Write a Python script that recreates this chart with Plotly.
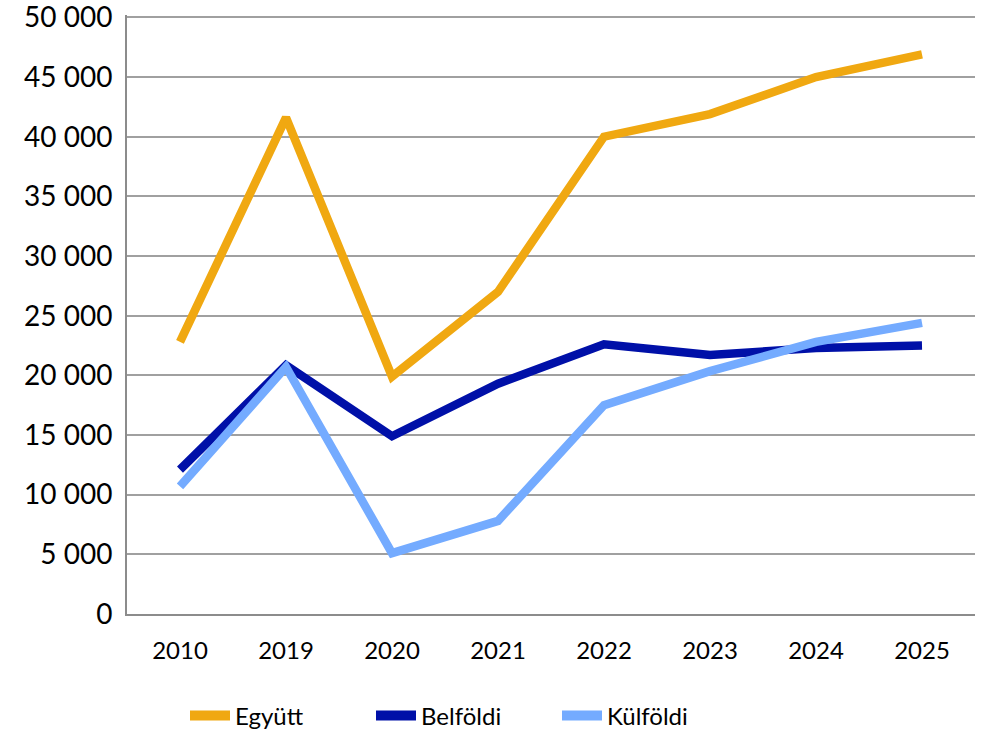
import plotly.graph_objects as go

years = ["2010", "2019", "2020", "2021", "2022", "2023", "2024", "2025"]
egyutt = [22800, 41600, 19900, 27000, 40000, 41900, 45000, 46900]
belfoldi = [12100, 20850, 14900, 19300, 22600, 21700, 22300, 22500]
kulfoldi = [10700, 20700, 5100, 7800, 17500, 20350, 22800, 24400]
series_names = ["Együtt", "Belföldi", "Külföldi"]
colors = ["#F0A811", "#0010A8", "#74ABFF"]

fig = go.Figure()
for name, vals, col in zip(series_names, [egyutt, belfoldi, kulfoldi], colors):
    fig.add_trace(go.Scatter(x=years, y=vals, name=name, mode="lines",
                             line=dict(color=col, width=8.5), showlegend=False))
# legend entries with thicker sample lines
for name, col in zip(series_names, colors):
    fig.add_trace(go.Scatter(x=[None], y=[None], name=name, mode="lines",
                             line=dict(color=col, width=14), showlegend=True))

font = "Lato, 'Open Sans', sans-serif"
fig.update_layout(
    width=983, height=738,
    margin=dict(l=127, r=8, t=15, b=124, autoexpand=False),
    paper_bgcolor="white", plot_bgcolor="white",
    separators=", ",
    font=dict(family=font, color="black"),
    showlegend=True,
    legend=dict(orientation="h", xref="container", x=185 / 983, xanchor="left",
                yref="container", y=1 - 716 / 738, yanchor="middle",
                font=dict(size=24, family=font), entrywidth=131, itemwidth=40),
    xaxis=dict(type="category", showgrid=False, showline=True, linecolor="#8c8c8c",
               linewidth=2, ticks="", tickfont=dict(size=24), ticklabelstandoff=14,
               range=[-0.5, 7.5]),
    yaxis=dict(range=[0, 50200], tickvals=list(range(0, 50001, 5000)), tickformat=",d",
               showgrid=True, gridcolor="#a0a0a0", gridwidth=1.5, showline=True,
               linecolor="#8c8c8c", linewidth=2, ticks="", tickfont=dict(size=28),
               ticklabelstandoff=7, ticklabeloverflow="allow", zeroline=False),
)
fig.write_html("out.html")
